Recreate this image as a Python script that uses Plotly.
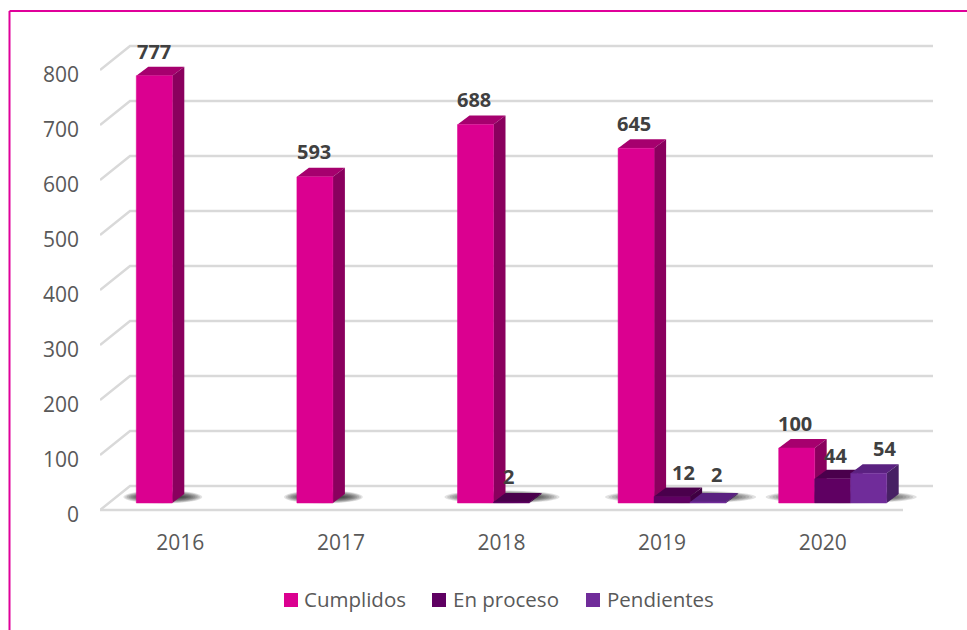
import plotly.graph_objects as go

# --- DATA ---
YEARS = ["2016", "2017", "2018", "2019", "2020"]
CUMPLIDOS = [777, 593, 688, 645, 100]
EN_PROCESO = [None, None, 2, 12, 44]
PENDIENTES = [None, None, None, 2, 54]
Y_TICKS = [0, 100, 200, 300, 400, 500, 600, 700, 800]

# name, values, front, top, side
SERIES = [
    ("Cumplidos", CUMPLIDOS, "#DB0090", "#A6006E", "#8A005E"),
    ("En proceso", EN_PROCESO, "#5F0062", "#4A004C", "#3F0042"),
    ("Pendientes", PENDIENTES, "#702C9A", "#5A2180", "#472064"),
]

# label nudges in px, same order as the values
LABEL_DX = [[0, -1, -2, -2, -2], [0, 0, -3, 11, 3], [0, 0, 0, 8, 16]]
LABEL_DY = [[24, 25, 25, 25, 25], [0, 0, 25, 24, 23], [0, 0, 0, 27, 25]]

# legend swatch left edge and text left edge, px
LEGEND_SWATCH_X = [284, 432, 586]
LEGEND_TEXT_X = [304, 453, 607]
LEGEND_Y = 600

# --- GEOMETRY (px of the 967x630 page) ---
LEFT, RIGHT, TOP, BOTTOM = 100, 933, 40, 515
PX_PER_UNIT = 0.55
PX_PER_CAT = 160.6
GRID_DY = 5                    # tick labels sit a little under the box front edge
WALL_DX, WALL_DY = 30, 24      # depth of the chart box
PLANE_DX, PLANE_DY = 10, 12    # where the bars stand, from the plot corner
BAR_DX, BAR_DY = 12, 9         # depth of each bar
BAR_W = 36 / PX_PER_CAT


def paper_x(px):
    return (px - LEFT) / (RIGHT - LEFT)


def paper_y(px):
    return (BOTTOM - px) / (BOTTOM - TOP)


x_range = [-0.5, -0.5 + (RIGHT - LEFT) / PX_PER_CAT]
y_range = [0, (BOTTOM - TOP) / PX_PER_UNIT]
y_grid = [v - GRID_DY / PX_PER_UNIT for v in y_range]
x_plane = [v - PLANE_DX / PX_PER_CAT for v in x_range]
y_plane = [v - PLANE_DY / PX_PER_UNIT for v in y_range]

wall_x = WALL_DX / PX_PER_CAT
wall_y = WALL_DY / PX_PER_UNIT
depth_x = BAR_DX / PX_PER_CAT
depth_y = BAR_DY / PX_PER_UNIT

fig = go.Figure()

# main axes only carry the tick labels, they need a trace to be drawn
fig.add_trace(go.Scatter(x=[0], y=[0], mode="none", showlegend=False, hoverinfo="skip"))

# --- BOX GRID ---
grid_x, grid_y = [], []
for t in Y_TICKS:
    grid_x += [-0.5, -0.5 + wall_x, 4.5 + wall_x, None]
    grid_y += [t, t + wall_y, t + wall_y, None]
grid_x += [-0.5, 4.5]
grid_y += [0, 0]
fig.add_trace(go.Scatter(x=grid_x, y=grid_y, xaxis="x2", yaxis="y2", mode="lines", showlegend=False,
                         hoverinfo="skip", line=dict(color="#D9D9D9", width=2.5)))

# --- 3D FACES, left to right so the later ones paint over ---
for k, (name, values, front, top, side) in enumerate(SERIES):
    for i, v in enumerate(values):
        if v is None:
            continue
        x0 = i + (k - 1.5) * BAR_W
        x1 = x0 + BAR_W
        fig.add_trace(go.Scatter(
            x=[x0, x1, x1 + depth_x, x0 + depth_x, x0],
            y=[v, v, v + depth_y, v + depth_y, v],
            xaxis="x3", yaxis="y3", mode="lines", fill="toself", fillcolor=top,
            line=dict(width=0, color=top), showlegend=False, hoverinfo="skip"))
        fig.add_trace(go.Scatter(
            x=[x1, x1 + depth_x, x1 + depth_x, x1, x1],
            y=[v, v + depth_y, depth_y, 0, v],
            xaxis="x3", yaxis="y3", mode="lines", fill="toself", fillcolor=side,
            line=dict(width=0, color=side), showlegend=False, hoverinfo="skip"))

# --- FRONT FACES ---
for name, values, front, top, side in SERIES:
    fig.add_trace(go.Bar(x=list(range(len(YEARS))), y=values, name=name, xaxis="x4", yaxis="y4",
                         showlegend=False, marker=dict(color=front, line=dict(color=front, width=0.5))))

# --- LABELS ---
annotations = []
for k, (name, values, front, top, side) in enumerate(SERIES):
    for i, v in enumerate(values):
        if v is None:
            continue
        annotations.append(dict(
            x=i + (k - 1) * BAR_W, y=v, xref="x4", yref="y4", text=str(v), showarrow=False,
            xshift=LABEL_DX[k][i], yshift=LABEL_DY[k][i],
            font=dict(family="Open Sans", size=20, color="#404040", weight="bold")))

# --- FLOOR SHADOWS ---
shapes = []
for i in range(len(YEARS)):
    last = max(k for k, s in enumerate(SERIES) if s[1][i] is not None)
    x0 = i - 1.5 * BAR_W - 13 / PX_PER_CAT
    x1 = i + (last - 0.5) * BAR_W + 30 / PX_PER_CAT
    mid = (x0 + x1) / 2
    for n in range(12):
        half_w = (x1 - x0) / 2 * (1 - n * 0.045)
        half_h = (6.5 - n * 0.5) / PX_PER_UNIT
        shapes.append(dict(type="circle", xref="x3", yref="y3", layer="below",
                           x0=mid - half_w, x1=mid + half_w,
                           y0=11 - half_h, y1=11 + half_h,
                           fillcolor="rgba(30,30,30,0.13)", line_width=0))

# --- PINK FRAME, only top and left ---
shapes.append(dict(type="line", xref="paper", yref="paper", x0=paper_x(9.5), x1=paper_x(967),
                   y0=paper_y(11), y1=paper_y(11), line=dict(color="#E0009A", width=2)))
shapes.append(dict(type="line", xref="paper", yref="paper", x0=paper_x(9.5), x1=paper_x(9.5),
                   y0=paper_y(11), y1=paper_y(630), line=dict(color="#E0009A", width=2)))

# --- LEGEND ---
axis_font = dict(family="Open Sans", size=21, color="#595959")
legend_font = dict(family="Open Sans", size=20.5, color="#595959")
for (name, values, front, top, side), sx, tx in zip(SERIES, LEGEND_SWATCH_X, LEGEND_TEXT_X):
    shapes.append(dict(type="rect", xref="paper", yref="paper", line_width=0, fillcolor=front,
                       x0=paper_x(sx), x1=paper_x(sx + 14), y0=paper_y(LEGEND_Y - 7), y1=paper_y(LEGEND_Y + 7)))
    annotations.append(dict(xref="paper", yref="paper", x=paper_x(tx), y=paper_y(LEGEND_Y - 1),
                            xanchor="left", yanchor="middle", xshift=-2, text=name, showarrow=False,
                            font=legend_font))

hidden = dict(visible=False, fixedrange=True)

fig.update_layout(
    width=967, height=630,
    margin=dict(l=LEFT, r=967 - RIGHT, t=TOP, b=630 - BOTTOM),
    paper_bgcolor="white", plot_bgcolor="white",
    barmode="group", bargap=1 - 3 * BAR_W, bargroupgap=0,
    shapes=shapes, annotations=annotations,
    font=axis_font, showlegend=False,
    xaxis=dict(range=x_range, tickmode="array", tickvals=list(range(len(YEARS))), ticktext=YEARS,
               showgrid=False, zeroline=False, showline=False, ticks="", ticklabelstandoff=13,
               tickfont=axis_font),
    yaxis=dict(range=y_range, tickmode="array", tickvals=Y_TICKS,
               showgrid=False, zeroline=False, showline=False, ticks="", ticklabelstandoff=20,
               tickfont=axis_font),
    xaxis2=dict(range=x_range, overlaying="x", anchor="y2", **hidden),
    yaxis2=dict(range=y_grid, overlaying="y", anchor="x2", **hidden),
    xaxis3=dict(range=x_plane, overlaying="x", anchor="y3", **hidden),
    yaxis3=dict(range=y_plane, overlaying="y", anchor="x3", **hidden),
    xaxis4=dict(range=x_plane, overlaying="x", anchor="y4", **hidden),
    yaxis4=dict(range=y_plane, overlaying="y", anchor="x4", **hidden),
)

# page margin would push the chart 8px off
fig.write_html("out.html", config={"displayModeBar": False},
               post_script="document.body.style.margin='0';")
